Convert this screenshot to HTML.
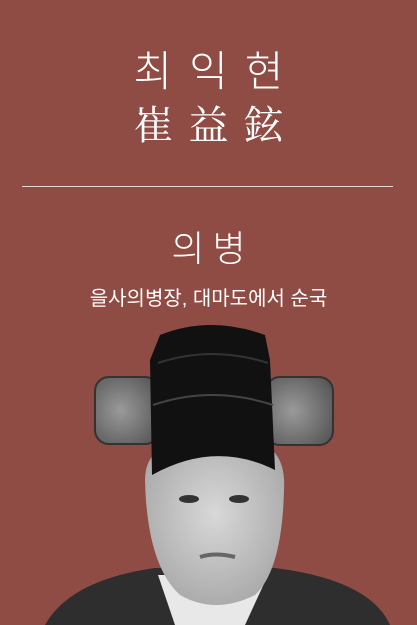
<!DOCTYPE html>
<html><head><meta charset="utf-8"><style>
body{margin:0;width:417px;height:625px;overflow:hidden;background:#8f4c45;font-family:"Liberation Sans","Noto Sans CJK KR",sans-serif;color:#fff;position:relative}
.t{position:absolute;left:0;width:417px;text-align:center;white-space:nowrap}
</style></head><body>
<div class="t" style="top:38px;font-size:42px;letter-spacing:17px;font-weight:300;text-indent:17px">최익현</div>
<div class="t" style="top:94px;font-size:40px;letter-spacing:15px;font-family:'Noto Serif CJK SC',serif;text-indent:15px">崔益鉉</div>
<div style="position:absolute;left:22px;top:186px;width:371px;height:1px;background:#e8d8d5"></div>
<div class="t" style="top:220px;font-size:36px;letter-spacing:8px;text-indent:8px;font-weight:300">의병</div>
<div class="t" style="top:282px;font-size:20px">을사의병장, 대마도에서 순국</div>
<svg style="position:absolute;left:0;top:0" width="417" height="625">
<defs><radialGradient id="w" cx="0.4" cy="0.5" r="0.7"><stop offset="0" stop-color="#9a9a9a"/><stop offset="1" stop-color="#555"/></radialGradient>
<radialGradient id="f" cx="0.5" cy="0.45" r="0.6"><stop offset="0" stop-color="#d8d8d8"/><stop offset="1" stop-color="#a8a8a8"/></radialGradient></defs>
<rect x="95" y="377" width="64" height="67" rx="14" fill="url(#w)" stroke="#333" stroke-width="2"/>
<rect x="266" y="377" width="67" height="68" rx="14" fill="url(#w)" stroke="#333" stroke-width="2"/>
<path d="M45 625 Q70 580 155 568 L275 568 Q370 580 390 625Z" fill="#2e2e2e"/>
<path d="M158 575 L268 575 L245 625 L175 625Z" fill="#e8e8e8"/>
<path d="M145 480 Q145 440 200 440 L240 440 Q287 440 284 490 Q282 570 255 595 Q215 615 180 595 Q147 565 145 480Z" fill="url(#f)"/>
<path d="M160 335 Q210 315 265 335 L270 360 L275 470 Q215 440 152 475 L150 360Z" fill="#111"/>
<path d="M153 405 Q212 385 273 405" stroke="#444" fill="none" stroke-width="2"/>
<path d="M158 363 Q212 345 268 363" stroke="#333" fill="none" stroke-width="2"/>
<ellipse cx="189" cy="499" rx="10" ry="4" fill="#333"/><ellipse cx="239" cy="499" rx="10" ry="4" fill="#333"/>
<path d="M200 557 Q215 552 235 557" stroke="#666" fill="none" stroke-width="4"/>
</svg>
</body></html>
